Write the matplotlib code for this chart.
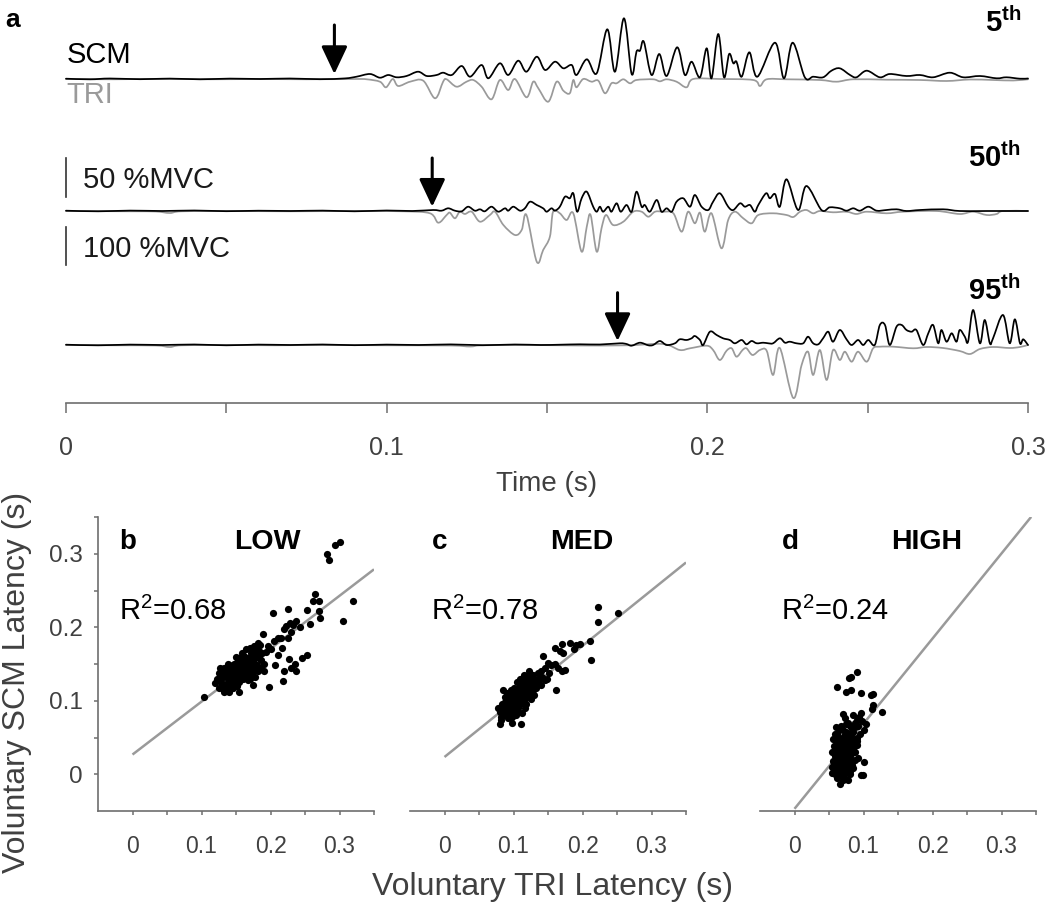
import matplotlib
matplotlib.use('Agg')
import matplotlib.pyplot as plt
from matplotlib.path import Path
from matplotlib.patches import PathPatch
import numpy as np

plt.rcParams['font.family'] = ['Liberation Sans', 'DejaVu Sans']
plt.rcParams['mathtext.fontset'] = 'custom'
plt.rcParams['mathtext.rm'] = 'Liberation Sans'
plt.rcParams['mathtext.bf'] = 'Liberation Sans:bold'
plt.rcParams['mathtext.it'] = 'Liberation Sans:italic'

# ---------------- data: EMG traces (time in ms, amplitude in display units) -------------
SCM_5 = [(0,0.3),(7.5,-0.3),(13.7,0.5),(23.1,-0.2),(32.4,0.4),(41.8,-0.3),(51.1,0.4),(60.5,0),(69.8,0.5),(79.2,-0.2),(87.0,0.6),(90.6,2.3),(94.8,5),(97.9,1.3),(100.5,4),(103.1,1.7),(106.2,3),(109.8,7.3),(112.5,3),(115.6,4),(117.6,6.3),(120.3,4),(123.4,13),(126.0,2.3),(129.6,14),(131.7,0.7),(135.3,15.7),(137.9,4),(141.0,18.3),(143.6,7.3),(146.8,22.3),(149.4,9),(152.5,17.3),(155.1,10.7),(157.7,14),(159.2,4),(162.4,19.7),(165.5,5.7),(168.8,49.7),(171.2,7.3),(174.0,60.7),(176.4,5),(177.9,27.3),(179.0,28.3),(180.2,37.3),(182.6,4),(185.0,25),(187.3,3),(190.6,31.7),(193.0,4),(195.1,17.3),(197.7,1.7),(199.8,30.7),(201.3,0.7),(203.4,45),(205.2,1.7),(206.8,25),(208.1,15.7),(209.1,17.3),(210.7,2.3),(213.1,26.7),(215.6,2.3),(221.1,36.3),(223.9,0.7),(226.6,36.3),(230.4,1.7),(233.0,2.3),(236.1,1.7),(238.7,8.3),(241.3,10.7),(244.5,4),(246.5,1.7),(249.7,8.3),(253.8,1.7),(256.9,5),(262.1,3),(266.3,4),(270.4,1.7),(275.6,6.3),(279.8,1.7),(285.0,3),(290.2,0.7),(293.3,1.7),(297.5,0.3),(300,0.5)]
TRI_5 = [(0,0),(15,0.3),(30,-0.2),(45,0.3),(60,0),(75,0.3),(90,0),(93.8,0.3),(97.9,2.7),(99.8,8.3),(101.9,0),(103.6,7),(107.3,2.7),(111.4,1.7),(115.1,19.3),(117.6,2.7),(118.7,0.3),(121.8,7.7),(124.9,2.7),(127.0,1),(129.6,7.7),(132.7,20.3),(135.3,1),(137.9,11),(140.0,0),(143.6,18.3),(145.7,2.7),(147.3,9.3),(150.4,22.7),(153.0,2.7),(155.1,11.7),(157.1,14.3),(158.2,1),(159.2,8.3),(161.3,0),(163.9,2.7),(166.0,1.7),(168.1,14.3),(170.1,4.3),(171.7,4.3),(173.8,0.3),(175.9,4.3),(177.9,1),(183.1,0.3),(185.2,2.3),(187.3,0.3),(190.4,2.7),(193.5,8.3),(195.6,0),(203.9,0),(214.3,1),(216.4,7),(218.5,0.3),(224.7,0.3),(235.1,1),(240.3,2.7),(245.5,0.3),(255.9,0.7),(266.3,1),(274.6,2),(281.9,0.5),(289.1,1),(295.4,1.5),(300,0.3)]

SCM_50 = [(0,0.3),(10,-0.3),(20,0.4),(30,0),(40,0.5),(50,-0.2),(60,0.3),(70,0),(80,0.4),(90,-0.3),(100,0.5),(108,0),(114.5,1),(117.1,0.3),(119.2,2.7),(121.3,0.3),(123.4,-0.3),(125.4,4.3),(127.5,0.3),(129.1,1.7),(130.6,-0.3),(132.7,4.3),(134.8,-0.7),(136.9,2.7),(137.9,0.3),(139.5,4.3),(141.6,0.3),(143.1,2.7),(144.7,9.3),(146.8,6),(148.8,2.7),(149.9,-0.7),(151.4,2.7),(152.5,0.3),(154.0,4.3),(155.6,14.3),(157.1,12.7),(158.2,17.7),(159.4,-0.7),(160.8,12.7),(162.4,19.3),(164.4,4.3),(165.5,-0.7),(166.5,4.3),(167.5,-0.7),(169.1,4.3),(170.1,-0.7),(171.7,7.7),(173.0,-0.7),(174.8,6),(176.4,-0.7),(177.9,19.3),(179.5,4.3),(180.5,6),(182.1,-0.7),(184.2,11),(185.7,-0.7),(187.3,2.7),(188.9,-0.7),(190.4,9.3),(192.5,12.7),(194.6,4.3),(196.1,16),(198.2,4.3),(200.3,1),(201.8,9.3),(203.9,17.7),(206.5,4.3),(208.1,1),(210.2,7.7),(211.7,4.3),(213.3,6),(214.8,-0.7),(215.9,6),(218.3,17.7),(219.5,12.7),(221.1,17),(222.6,4.3),(224.7,31.7),(228.3,1),(230.9,25),(235.6,1),(238.2,3.7),(241.3,2.7),(243.4,0.3),(245.5,2.7),(247.6,0.3),(250.2,4.3),(252.8,0.3),(255.9,1),(259.0,1.7),(262.1,0),(266.3,1),(273.5,1.7),(278.7,0),(287.1,0),(300,0)]
TRI_50 = [(0,0),(20,0.3),(28,0.5),(32.4,2),(36,0.3),(50,0),(70,0.3),(90,0),(105,0.3),(113.5,2.3),(116.1,11.7),(118.7,4),(119.7,1.7),(121.3,7.3),(122.8,0.7),(124.4,3),(126.5,0.7),(129.1,10.7),(132.2,4),(133.8,0.7),(136.4,14),(140.0,24),(142.1,19),(143.6,4),(146.8,50.7),(148.8,39),(150.9,25.7),(151.9,0.7),(154.0,2.3),(156.1,9),(158.2,2.3),(160.8,40.7),(162.4,15.7),(163.6,4),(165.5,40.7),(167.0,17.3),(168.4,4),(170.6,14),(173.8,10.7),(176.9,0.7),(179.5,0.7),(181.6,5.7),(183.7,0.7),(186.2,0.7),(189.4,2.3),(192.0,20.7),(194.0,0.7),(196.1,12.3),(197.7,1.7),(199.2,20.7),(201.3,2.3),(204.4,37.3),(206.5,9),(208.6,0.7),(211.2,7.3),(213.8,12.3),(215.9,4),(220.5,2.3),(224.7,4),(226.8,6),(228.9,0.7),(230.9,-1),(233.0,2.3),(235.1,0),(239.2,1.3),(243.4,0.7),(246.5,3),(249.7,0.7),(255.9,2.3),(261.1,0.7),(271.5,0),(278.7,3),(282.9,0.7),(287.1,4),(290.2,3),(292.2,0),(300,0)]

SCM_95 = [(0,0.3),(10,-0.3),(20,0.4),(30,0),(40,0.5),(50,-0.3),(60,0.4),(70,0),(80,0.5),(90,-0.2),(100,0.4),(110,0),(120,0.6),(130,-0.2),(140,0.5),(148,0),(154.0,0.3),(160.3,0.7),(166.5,0.5),(172.7,1.7),(174.8,1),(176.4,-0.7),(179.0,2.3),(181.6,-0.3),(183.1,0),(185.2,4),(187.3,0),(189.9,1.7),(191.4,5.7),(193.5,5),(195.1,6.7),(196.1,9),(197.7,5),(198.7,0),(200.8,13.3),(202.9,10),(204.9,6.7),(207.0,5),(208.6,1.7),(210.7,5),(212.2,0.7),(213.8,4),(215.4,1.7),(217.4,2.3),(219.0,1.7),(220.5,1.7),(222.6,6.7),(224.2,2.3),(225.7,3.3),(227.8,1.7),(229.9,1.7),(231.4,8.3),(233.0,1.7),(234.6,0.7),(236.1,6.7),(237.7,13.3),(239.2,3.3),(241.3,15),(243.4,5.7),(245.0,0),(247.0,5),(248.6,0),(250.2,5),(252.2,0),(253.8,20),(255.4,20),(256.9,0),(259.0,18.3),(260.6,20),(262.1,15),(263.7,13.3),(265.2,15),(267.3,0),(268.9,11.7),(270.4,20),(272.0,1.7),(273.0,15),(274.6,3.3),(276.2,11.7),(277.7,3.3),(278.7,15),(280.3,8.3),(281.3,3.3),(282.9,35),(285.0,1.7),(286.5,25),(288.1,1.7),(289.1,6.7),(292.2,30),(294.3,1.7),(295.9,25.7),(297.5,1.7),(298.5,5.7),(300,0)]
TRI_95 = [(0,0),(15,0.3),(28,0.5),(32.4,2),(36,0.3),(50,0),(65,0.3),(80,0),(100,0.3),(120,0.5),(126,1.5),(130,0.3),(145,0),(160,0.5),(175,0.3),(186.2,-1),(191.4,5),(194.6,3.3),(199.8,0.7),(201.8,5),(203.9,15),(206.0,5.7),(207.6,3.3),(209.1,11.7),(211.0,5),(212.2,3.3),(214.1,10),(216.4,5),(218.5,5.7),(220.5,30),(222.6,3),(226.8,53),(229.4,20),(231.4,6.7),(233.0,30),(235.1,5),(237.2,35),(239.2,5),(241.3,15),(242.9,6.7),(245.0,16.7),(247.0,6.7),(249.7,16.7),(251.7,3.3),(253.8,1.7),(258.0,1.7),(264.2,3.3),(268.4,2),(273.5,3),(278.7,6),(281.9,9),(285.0,4),(289.1,2),(294.3,3),(297.5,2),(300,0)]

percentile_labels = [r'$\mathbf{5^{th}}$', r'$\mathbf{50^{th}}$', r'$\mathbf{95^{th}}$']
onset_ms = [83.7, 114.2, 172.0]
time_ticks = [0, 100, 200, 300]
time_ticklabels = ['0', '0.1', '0.2', '0.3']

# ---------------- data: latency scatter (TRI latency s, SCM latency s) ----------------
LOW_PTS = [(0.104,0.105),(0.282,0.300),(0.285,0.292),(0.293,0.312),(0.300,0.316),(0.320,0.236),(0.305,0.208),(0.270,0.236),(0.262,0.236),(0.270,0.222),(0.272,0.213),(0.265,0.245),(0.253,0.223),(0.257,0.204),(0.243,0.200),(0.226,0.225),(0.203,0.219),(0.237,0.208),(0.232,0.203),(0.228,0.206),(0.223,0.202),(0.219,0.198),(0.215,0.186),(0.225,0.186),(0.211,0.186),(0.205,0.181),(0.230,0.194),(0.189,0.191),(0.198,0.119),(0.218,0.127),(0.207,0.148),(0.220,0.141),(0.230,0.145),(0.236,0.150),(0.245,0.158),(0.253,0.162),(0.227,0.157),(0.237,0.141),(0.211,0.162),(0.216,0.172),(0.196,0.175),(0.200,0.170),(0.194,0.167),(0.185,0.176),(0.178,0.160),(0.190,0.150),(0.190,0.140),(0.178,0.132),(0.175,0.122),(0.155,0.112),(0.145,0.118),(0.132,0.112),(0.125,0.118),(0.128,0.125),(0.130,0.135),(0.122,0.130),(0.120,0.124),(0.137,0.145),(0.140,0.148),(0.148,0.145),(0.152,0.138),(0.148,0.130),(0.142,0.128),(0.138,0.125),(0.135,0.132),(0.160,0.130),(0.165,0.138),(0.170,0.142),(0.168,0.150),(0.172,0.155),(0.176,0.145),(0.180,0.148),(0.183,0.158),(0.160,0.155),(0.163,0.160),(0.155,0.150),(0.158,0.145),(0.150,0.160),(0.158,0.165),(0.165,0.170),(0.170,0.172),(0.175,0.168),(0.173,0.135),(0.168,0.128),(0.155,0.125),(0.145,0.135),(0.140,0.140),(0.132,0.140),(0.127,0.145),(0.150,0.142),(0.162,0.147),(0.166,0.143),(0.185,0.145),(0.187,0.165),(0.180,0.170),(0.152,0.120),(0.140,0.112),(0.130,0.117),(0.147,0.150),(0.153,0.155),(0.172,0.160),(0.176,0.175),(0.182,0.178),(0.162,0.135),(0.170,0.130),(0.158,0.138),(0.144,0.142),(0.136,0.135),
           (0.145,0.140),(0.150,0.135),(0.155,0.140),(0.160,0.142),(0.165,0.150),(0.170,0.150),(0.175,0.155),(0.180,0.160),(0.178,0.150),(0.172,0.145),(0.168,0.138),(0.162,0.140),(0.157,0.132),(0.152,0.128),(0.147,0.125),(0.142,0.120),(0.137,0.118),(0.133,0.122),(0.128,0.130),(0.125,0.138),(0.133,0.145),(0.140,0.133),(0.145,0.130),(0.150,0.148),(0.155,0.158),(0.160,0.162),(0.167,0.158),(0.172,0.165),(0.177,0.162),(0.183,0.168),(0.186,0.155),(0.182,0.140),(0.170,0.135),(0.165,0.132),(0.158,0.152),(0.163,0.155),(0.148,0.138),(0.143,0.147),(0.138,0.150),(0.175,0.140)]

MED_PTS = [(0.223,0.227),(0.223,0.207),(0.251,0.220),(0.213,0.155),(0.211,0.181),(0.196,0.177),(0.190,0.176),(0.182,0.178),(0.170,0.177),(0.160,0.172),(0.187,0.170),(0.172,0.165),(0.168,0.168),(0.143,0.161),(0.162,0.114),(0.170,0.141),(0.175,0.142),(0.165,0.145),(0.160,0.150),(0.155,0.148),(0.150,0.152),(0.145,0.145),(0.140,0.140),(0.135,0.138),(0.152,0.138),(0.148,0.130),(0.111,0.069),(0.080,0.069),(0.082,0.074),(0.085,0.115),(0.080,0.085),(0.078,0.090),(0.085,0.080),(0.090,0.085),(0.092,0.092),(0.088,0.098),(0.095,0.100),(0.098,0.095),(0.100,0.088),(0.103,0.080),(0.098,0.078),(0.092,0.076),(0.105,0.092),(0.108,0.100),(0.112,0.108),(0.110,0.095),(0.115,0.100),(0.118,0.112),(0.120,0.105),(0.122,0.118),(0.125,0.112),(0.128,0.120),(0.130,0.128),(0.132,0.118),(0.126,0.130),(0.118,0.125),(0.113,0.120),(0.108,0.115),(0.102,0.110),(0.097,0.108),(0.093,0.105),(0.090,0.110),(0.100,0.118),(0.105,0.125),(0.110,0.130),(0.115,0.135),(0.120,0.132),(0.135,0.125),(0.138,0.130),(0.142,0.132),(0.128,0.135),(0.122,0.140),(0.116,0.090),(0.107,0.085),(0.112,0.083),(0.095,0.090),(0.087,0.088),(0.083,0.095),(0.088,0.105),(0.096,0.115),(0.103,0.104),(0.118,0.095),(0.125,0.102),(0.130,0.108),(0.140,0.122),(0.145,0.128),(0.098,0.070),(0.093,0.082),(0.102,0.098),(0.107,0.108),(0.113,0.113),
           (0.085,0.090),(0.090,0.095),(0.095,0.095),(0.100,0.100),(0.105,0.105),(0.110,0.105),(0.115,0.110),(0.120,0.115),(0.125,0.120),(0.100,0.105),(0.095,0.105),(0.090,0.100),(0.085,0.085),(0.088,0.080),(0.093,0.088),(0.098,0.088),(0.103,0.092),(0.108,0.095),(0.113,0.100),(0.118,0.105),(0.123,0.110),(0.128,0.115),(0.133,0.122),(0.105,0.115),(0.110,0.120),(0.115,0.125),(0.100,0.112),(0.092,0.100),(0.087,0.093),(0.082,0.078),(0.097,0.083),(0.107,0.090),(0.117,0.118),(0.122,0.125),(0.127,0.128),(0.112,0.110),(0.102,0.085),(0.094,0.095),(0.089,0.087),(0.106,0.098),(0.111,0.115),(0.116,0.108),(0.121,0.122),(0.131,0.125),(0.136,0.130)]

HIGH_PTS = [(0.091,0.139),(0.082,0.132),(0.079,0.131),(0.062,0.119),(0.075,0.112),(0.082,0.115),(0.096,0.111),(0.111,0.108),(0.114,0.109),(0.114,0.094),(0.113,0.089),(0.127,0.085),(0.104,0.069),(0.097,0.083),(0.090,0.074),(0.093,0.078),(0.085,0.080),(0.071,0.082),(0.073,0.076),(0.077,0.070),(0.080,0.066),(0.060,0.064),(0.062,0.055),(0.065,0.050),(0.070,0.060),(0.075,0.058),(0.083,0.062),(0.088,0.064),(0.092,0.066),(0.078,0.052),(0.085,0.048),(0.090,0.045),(0.072,0.045),(0.068,0.040),(0.062,0.042),(0.057,0.038),(0.055,0.030),(0.060,0.032),(0.065,0.030),(0.070,0.035),(0.075,0.038),(0.080,0.040),(0.085,0.035),(0.088,0.030),(0.082,0.028),(0.077,0.025),(0.072,0.022),(0.066,0.020),(0.060,0.022),(0.056,0.018),(0.055,0.010),(0.058,0.008),(0.062,0.012),(0.067,0.010),(0.072,0.012),(0.078,0.015),(0.083,0.018),(0.088,0.020),(0.092,0.022),(0.100,0.017),(0.096,-0.001),(0.099,-0.001),(0.066,-0.013),(0.062,-0.005),(0.070,-0.002),(0.075,0.002),(0.080,0.005),(0.085,0.008),(0.058,0.000),(0.055,0.002),(0.063,0.003),(0.073,-0.006),(0.078,-0.008),(0.068,0.005),(0.060,0.045),(0.058,0.025),(0.063,0.026),(0.069,0.027),(0.074,0.030),(0.079,0.033),(0.087,0.042),(0.091,0.050),(0.095,0.055),(0.100,0.060),(0.098,0.072),(0.058,0.055),(0.056,0.048),
            (0.060,0.015),(0.065,0.018),(0.070,0.020),(0.075,0.020),(0.080,0.022),(0.058,0.005),(0.063,0.008),(0.068,0.012),(0.073,0.015),(0.078,0.010),(0.083,0.012),(0.060,0.028),(0.065,0.035),(0.070,0.040),(0.075,0.045),(0.080,0.048),(0.058,0.035),(0.062,0.038),(0.067,0.045),(0.072,0.052),(0.077,0.055),(0.082,0.055),(0.065,0.002),(0.070,0.008),(0.075,0.010),(0.080,0.000),(0.066,0.025),(0.071,0.030),(0.076,0.033),(0.081,0.035),(0.086,0.038),(0.090,0.040),(0.064,0.060),(0.068,0.065),(0.074,0.068),(0.085,0.058),(0.088,0.070),(0.057,0.015),(0.061,-0.002),(0.070,-0.008)]

panel_letters = ['b', 'c', 'd']
panel_titles = ['LOW', 'MED', 'HIGH']
r2_values = ['0.68', '0.78', '0.24']
fit_intercept = [0.0268, 0.0235, -0.047]
fit_slope = [0.72, 0.756, 1.158]
fit_xmax = [0.35, 0.35, 0.343]
lat_ticks = [0, 0.1, 0.2, 0.3]
lat_ticklabels = ['0', '0.1', '0.2', '0.3']

# ---------------- figure ----------------
W, H = 1050, 908
fig = plt.figure(figsize=(10.5, 9.08), dpi=100)
def fx(px): return px / W
def fy(py): return 1 - py / H

SPINE = '#6e6e6e'
TXT = '#404040'
GRAY = '#9a9a9a'


def smooth_trace(ax, x, y, **kw):
    """Draw the read points joined by Catmull-Rom style Bezier curves."""
    x = np.asarray(x, float)
    y = np.asarray(y, float)
    xp = np.concatenate([[x[0]], x, [x[-1]]])
    yp = np.concatenate([[y[0]], y, [y[-1]]])
    verts = [(x[0], y[0])]
    codes = [Path.MOVETO]
    for i in range(len(x) - 1):
        c1 = (xp[i + 1] + (xp[i + 2] - xp[i]) / 6, yp[i + 1] + (yp[i + 2] - yp[i]) / 6)
        c2 = (xp[i + 2] - (xp[i + 3] - xp[i + 1]) / 6, yp[i + 2] - (yp[i + 3] - yp[i + 1]) / 6)
        verts += [c1, c2, (x[i + 1], y[i + 1])]
        codes += [Path.CURVE4] * 3
    p = PathPatch(Path(verts, codes), facecolor='none', clip_on=False,
                  joinstyle='round', capstyle='round', **kw)
    ax.add_patch(p)


# ---- panel a ----
ax = fig.add_axes([fx(66), fy(403.3), fx(1028) - fx(66), fy(0) - fy(403.3)])
ax.set_xlim(0, 300)
ax.set_ylim(-403.3, 0)
baselines = [-79, -211, -345]
traces = [(SCM_5, TRI_5), (SCM_50, TRI_50), (SCM_95, TRI_95)]
for (scm, tri), b0 in zip(traces, baselines):
    tt, aa = np.array(tri).T
    smooth_trace(ax, tt, b0 - aa, edgecolor=GRAY, lw=1.25)
    ts, as_ = np.array(scm).T
    smooth_trace(ax, ts, b0 + as_, edgecolor='black', lw=1.25)

arrow_y = [(25, 74), (158, 206.7), (292.7, 341)]
for t0, (ytop, ytip) in zip(onset_ms, arrow_y):
    ax.annotate('', xy=(t0, -ytip), xytext=(t0, -ytop),
                arrowprops=dict(arrowstyle='-|>,head_length=0.85,head_width=0.4',
                                color='black', lw=2.2, shrinkA=0, shrinkB=0,
                                mutation_scale=20))

# scale bars
ax.plot([0, 0], [-196.7, -158.3], color='#333333', lw=1.2, clip_on=False)
ax.plot([0, 0], [-265, -227.3], color='#333333', lw=1.2, clip_on=False)

for s in ['top', 'left', 'right']:
    ax.spines[s].set_visible(False)
ax.spines['bottom'].set_color(SPINE)
ax.spines['bottom'].set_linewidth(1.2)
ax.set_yticks([])
ax.set_xticks(time_ticks)
ax.set_xticklabels(time_ticklabels)
ax.set_xticks([50, 150, 250], minor=True)
ax.tick_params(axis='x', which='both', direction='out', length=7.5, width=1.1,
               color=SPINE, labelsize=18, labelcolor=TXT, pad=16)
ax.patch.set_visible(False)

fig.text(fx(547), fy(484), 'Time (s)', ha='center', va='center', fontsize=20, color=TXT)
fig.text(fx(5), fy(26.7), 'a', fontsize=19, fontweight='bold', va='baseline')
fig.text(fx(66.5), fy(62.7), 'SCM', fontsize=21, va='baseline', color='black')
fig.text(fx(66.5), fy(103), 'TRI', fontsize=21, va='baseline', color=GRAY)
fig.text(fx(83), fy(188.3), '50 %MVC', fontsize=21, va='baseline', color='#1a1a1a')
fig.text(fx(83), fy(256.7), '100 %MVC', fontsize=21, va='baseline', color='#1a1a1a')
for lab, yb in zip(percentile_labels, [32, 166.7, 300]):
    fig.text(fx(1021), fy(yb), lab, fontsize=21, ha='right', va='baseline')

# ---- panels b, c, d ----
lefts = [98, 410, 760]
scat = [LOW_PTS, MED_PTS, HIGH_PTS]
for i, (l, pts) in enumerate(zip(lefts, scat)):
    xs, ys = np.array(pts).T
    axb = fig.add_axes([fx(l), fy(811), 276 / W, 294 / H])
    axb.set_xlim(-0.05, 0.35)
    axb.set_ylim(-0.05, 0.35)
    xl = np.array([0, fit_xmax[i]])
    axb.plot(xl, fit_intercept[i] + fit_slope[i] * xl, color=GRAY, lw=1.8, zorder=2,
             solid_capstyle='butt')
    axb.scatter(xs, ys, s=27, color='black', linewidths=0, zorder=3)
    for s in ['top', 'right']:
        axb.spines[s].set_visible(False)
    for s in ['bottom', 'left']:
        axb.spines[s].set_color(SPINE)
        axb.spines[s].set_linewidth(1.2)
    axb.set_xticks(lat_ticks)
    axb.set_xticklabels(lat_ticklabels)
    axb.set_xticks([0.05, 0.15, 0.25, 0.35], minor=True)
    axb.tick_params(axis='x', which='both', direction='out', length=3, width=1.1,
                    color=SPINE, labelsize=16.5, labelcolor=TXT, pad=14)
    if i == 0:
        axb.set_yticks(lat_ticks)
        axb.set_yticklabels(lat_ticklabels)
        axb.set_yticks([0.05, 0.15, 0.25, 0.35], minor=True)
        axb.tick_params(axis='y', which='both', direction='out', length=3, width=1.1,
                        color=SPINE, labelsize=17.5, labelcolor=TXT, pad=8)
    else:
        axb.spines['left'].set_visible(False)
        axb.set_yticks([])
    axb.patch.set_visible(False)
    axb.text(-0.019, 0.306, panel_letters[i], fontsize=20, fontweight='bold', va='baseline')
    axb.text([0.196, 0.199, 0.192][i], 0.306, panel_titles[i], fontsize=20.5,
             fontweight='bold', ha='center', va='baseline')
    axb.text(-0.019, 0.2105, r'R$^{2}$=' + r2_values[i], fontsize=21, va='baseline')

fig.text(fx(17), fy(682), 'Voluntary SCM Latency (s)', rotation=90, ha='center',
         va='center', fontsize=23, color=TXT)
fig.text(fx(552), fy(887), 'Voluntary TRI Latency (s)', ha='center', va='center',
         fontsize=23, color=TXT)

fig.savefig('out.png', dpi=100)
